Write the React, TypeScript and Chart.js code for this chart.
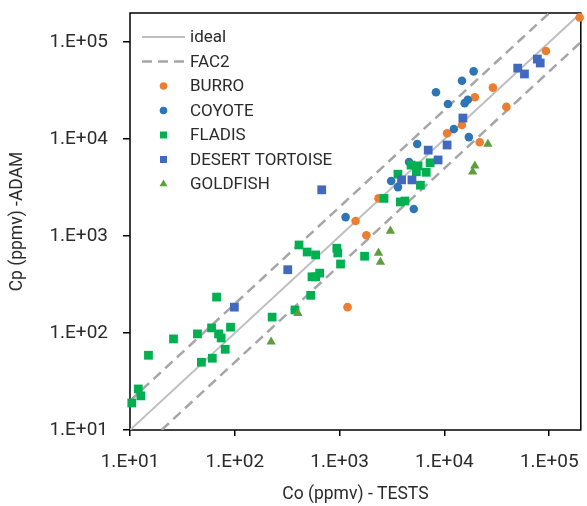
import React, { useEffect, useRef } from 'react';
import { Chart, registerables } from 'chart.js';

Chart.register(...registerables);

// Observed (Co, tests) vs predicted (Cp, ADAM) concentrations, ppmv
const burroCo = [195000, 93000, 29000, 19500, 39000, 14700, 10600, 21700, 2350, 1420, 1800, 1190];
const burroCp = [180000, 81000, 34000, 27000, 21500, 14000, 11500, 9300, 2450, 1430, 1020, 185];

const coyoteCo = [19000, 14700, 8300, 10800, 15600, 16700, 12300, 17100, 5500, 4600, 3100, 3600, 5100, 1140];
const coyoteCp = [50000, 40000, 30500, 23000, 23500, 25500, 12700, 10500, 8900, 5800, 3700, 3200, 1900, 1570];

const fladisCo = [
  3600, 4800, 5600, 5400, 6700, 7300, 5900, 2650, 3800, 4200,
  410, 490, 590, 940, 960, 1020, 1730, 545, 590, 645, 530, 375, 227,
  67, 26, 44, 60, 70, 74, 91, 81, 61, 48, 15, 12, 12.7, 10.4,
];
const fladisCp = [
  4350, 5400, 5300, 4600, 4550, 5700, 3350, 2450, 2250, 2300,
  810, 685, 640, 750, 670, 515, 620, 380, 380, 415, 245, 173, 146,
  235, 87, 98, 113, 98, 89, 115, 68, 55, 50, 59, 26.5, 22.5, 19,
];

const tortoiseCo = [77000, 82000, 50000, 58000, 15000, 10600, 7000, 8700, 3900, 4900, 675, 320, 99];
const tortoiseCp = [67000, 61000, 54000, 47000, 16500, 8700, 7700, 6100, 3800, 3800, 3000, 450, 185];

const goldfishCo = [26000, 19500, 18600, 3050, 2350, 2450, 400, 222];
const goldfishCp = [8900, 5300, 4600, 1130, 670, 540, 160, 81];

// Reference lines: 1:1 and factor-of-two band
const idealCo = [10, 200000];
const idealCp = [10, 200000];
const fac2UpperCo = [10, 100000];
const fac2UpperCp = [20, 200000];
const fac2LowerCo = [20, 200000];
const fac2LowerCp = [10, 100000];

const axisMin = 10;
const axisMax = 200000;
const decadeTicks = [1e1, 1e2, 1e3, 1e4, 1e5];

const FONT = 'Roboto, "Noto Sans", sans-serif';
const TEXT = '#2b2b2b';

function pairs(xs: number[], ys: number[]) {
  return xs.map((x, i) => ({ x, y: ys[i] }));
}

function sciLabel(v: number) {
  const exp = Math.round(Math.log10(v));
  return '1.E+' + String(exp).padStart(2, '0');
}

// Full box around the plotting area
const plotFrame = {
  id: 'plotFrame',
  beforeDatasetsDraw(chart: any) {
    const { ctx, chartArea: a } = chart;
    ctx.save();
    ctx.strokeStyle = '#000';
    ctx.lineWidth = 1.5;
    ctx.strokeRect(a.left, a.top, a.right - a.left, a.bottom - a.top);
    ctx.restore();
  },
};

function drawMarker(ctx: CanvasRenderingContext2D, style: string, x: number, y: number, color: string) {
  ctx.fillStyle = color;
  ctx.beginPath();
  if (style === 'circle') {
    ctx.arc(x, y, 3.8, 0, Math.PI * 2);
  } else if (style === 'rect') {
    ctx.rect(x - 3.5, y - 3.5, 7, 7);
  } else if (style === 'triangle') {
    const r = 4.6;
    ctx.moveTo(x, y - r);
    ctx.lineTo(x + r * Math.sin((2 * Math.PI) / 3), y + r / 2);
    ctx.lineTo(x - r * Math.sin((2 * Math.PI) / 3), y + r / 2);
    ctx.closePath();
  }
  ctx.fill();
}

// Legend drawn inside the top-left corner of the plot
const insideLegend = {
  id: 'insideLegend',
  afterDatasetsDraw(chart: any) {
    const { ctx, chartArea } = chart;
    const sampleLeft = chartArea.left + 12;
    const sampleWidth = 43;
    const textX = chartArea.left + 60;
    let y = chartArea.top + 24;
    ctx.save();
    ctx.font = `17px ${FONT}`;
    ctx.textBaseline = 'middle';
    ctx.textAlign = 'left';
    chart.data.datasets.forEach((ds: any) => {
      if (!ds.label) return;
      if (ds.showLine) {
        ctx.save();
        ctx.strokeStyle = ds.borderColor;
        ctx.lineWidth = ds.borderWidth;
        ctx.setLineDash(ds.borderDash || []);
        ctx.beginPath();
        ctx.moveTo(sampleLeft, y);
        ctx.lineTo(sampleLeft + sampleWidth, y);
        ctx.stroke();
        ctx.restore();
      } else {
        drawMarker(ctx, ds.pointStyle, sampleLeft + sampleWidth / 2, y, ds.backgroundColor);
      }
      ctx.fillStyle = TEXT;
      ctx.fillText(ds.label, textX, y + 1);
      y += 24.5;
    });
    ctx.restore();
  },
};

function lineSet(label: string, xs: number[], ys: number[], color: string, width: number, dash: number[]) {
  return {
    label,
    data: pairs(xs, ys),
    showLine: true,
    borderColor: color,
    borderWidth: width,
    borderDash: dash,
    pointRadius: 0,
    pointHoverRadius: 0,
    fill: false,
    order: 10,
  };
}

function pointSet(label: string, xs: number[], ys: number[], color: string, style: string, radius: number, order: number) {
  return {
    label,
    data: pairs(xs, ys),
    showLine: false,
    backgroundColor: color,
    borderColor: color,
    borderWidth: 0,
    pointStyle: style,
    pointRadius: radius,
    pointHoverRadius: radius,
    clip: false,
    order,
  };
}

export default function App() {
  const canvasRef = useRef<HTMLCanvasElement | null>(null);

  useEffect(() => {
    const canvas = canvasRef.current;
    if (!canvas) return;

    const logAxis = (titleText: string, isX: boolean) => ({
      type: 'logarithmic' as const,
      min: axisMin,
      max: axisMax,
      afterBuildTicks: (scale: any) => {
        scale.ticks = decadeTicks.map((v) => ({ value: v }));
      },
      afterFit: (scale: any) => {
        if (isX) scale.height = 76;
        else scale.width = 130;
        scale.paddingLeft = 0;
        scale.paddingRight = 0;
        scale.paddingTop = 0;
        scale.paddingBottom = 0;
      },
      ticks: {
        callback: (v: any) => sciLabel(Number(v)),
        autoSkip: false,
        maxRotation: 0,
        minRotation: 0,
        color: TEXT,
        font: { family: FONT, size: 19 },
        padding: isX ? 15 : 15,
      },
      grid: {
        display: true,
        drawOnChartArea: false,
        drawTicks: true,
        tickLength: isX ? 6 : 7,
        color: '#000',
        lineWidth: 1.5,
      },
      border: { display: false },
      title: {
        display: true,
        text: titleText,
        color: TEXT,
        font: { family: FONT, size: 17.5 },
        padding: isX ? { top: 0, bottom: 1 } : { top: 7, bottom: 0 },
      },
    });

    const chart = new Chart(canvas, {
      type: 'scatter',
      data: {
        datasets: [
          lineSet('ideal', idealCo, idealCp, '#BFBFBF', 2, []),
          lineSet('FAC2', fac2UpperCo, fac2UpperCp, '#A6A6A6', 2.5, [10, 6]),
          pointSet('BURRO', burroCo, burroCp, '#ED7D31', 'circle', 4.3, 5),
          pointSet('COYOTE', coyoteCo, coyoteCp, '#2E75B6', 'circle', 4.3, 4),
          pointSet('FLADIS', fladisCo, fladisCp, '#00B050', 'rect', 6.2, 3),
          pointSet('DESERT TORTOISE', tortoiseCo, tortoiseCp, '#4169BE', 'rect', 6.2, 2),
          pointSet('GOLDFISH', goldfishCo, goldfishCp, '#5E9E3C', 'triangle', 5.4, 1),
          lineSet('', fac2LowerCo, fac2LowerCp, '#A6A6A6', 2.5, [10, 6]),
        ] as any,
      },
      options: {
        responsive: false,
        animation: false,
        devicePixelRatio: 1,
        events: [],
        layout: { padding: { left: 0, top: 13, right: 4, bottom: 0 } },
        scales: {
          x: logAxis('Co (ppmv) - TESTS', true) as any,
          y: logAxis('Cp (ppmv) -ADAM', false) as any,
        },
        plugins: {
          legend: { display: false },
          title: { display: false },
          tooltip: { enabled: false },
        },
      },
      plugins: [plotFrame, insideLegend],
    });

    if ((document as any).fonts && (document as any).fonts.load) {
      (document as any).fonts.load(`17px Roboto`).then(() => chart.update()).catch(() => {});
    }

    return () => chart.destroy();
  }, []);

  return (
    <div style={{ position: 'absolute', left: 0, top: 0, width: 587, height: 506, background: '#fff' }}>
      <canvas ref={canvasRef} width={587} height={506} />
    </div>
  );
}
